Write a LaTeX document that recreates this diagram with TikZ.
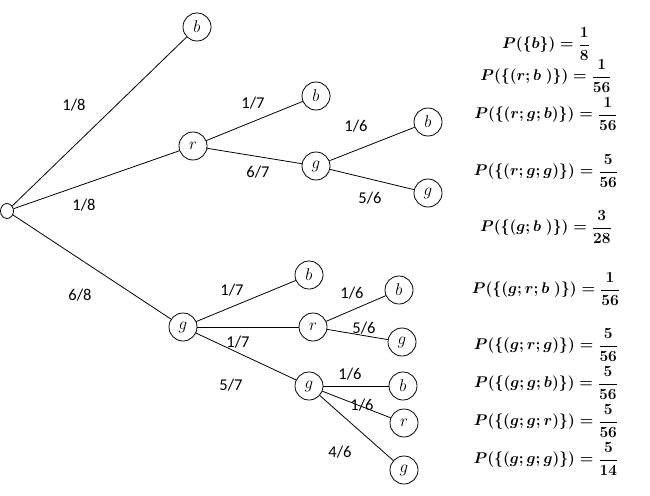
\documentclass[tikz,border=0pt]{standalone}
\usepackage{fix-cm}
\usepackage{amsmath}
\usepackage{fontspec}
\usetikzlibrary{shapes.geometric}
\newfontfamily\labfont{Carlito}
\begin{document}
\begin{tikzpicture}[x=1pt,y=-1pt,
  st/.style={circle,draw,line width=0.8pt,minimum size=28pt,inner sep=0pt,font=\fontsize{17}{19}\selectfont},
  rootst/.style={ellipse,draw,line width=0.8pt,minimum width=13pt,minimum height=15pt,inner sep=0pt},
  edge/.style={line width=0.8pt},
  lab/.style={font=\labfont\fontsize{16.5}{19}\selectfont,inner sep=0pt},
  prob/.style={font=\fontsize{15.5}{18}\selectfont\boldmath,inner sep=0pt}]
\useasboundingbox (0,0) rectangle (650,495);
\node[rootst] (root) at (7,211) {};
\node[st] (b1) at (197,27) {$b$};
\node[st] (r) at (193,146) {$r$};
\node[st] (rb) at (316,96) {$b$};
\node[st] (rg) at (316,166) {$g$};
\node[st] (rgb) at (428,122) {$b$};
\node[st] (rgg) at (428,193) {$g$};
\node[st] (g) at (183,327) {$g$};
\node[st] (gb) at (309,275) {$b$};
\node[st] (gr) at (313,327) {$r$};
\node[st] (grb) at (399,290) {$b$};
\node[st] (grg) at (402,342) {$g$};
\node[st] (gg) at (309,386) {$g$};
\node[st] (ggb) at (403,386) {$b$};
\node[st] (ggr) at (404,423) {$r$};
\node[st] (ggg) at (404,470) {$g$};
\foreach \a/\b in {root/b1,root/r,root/g,r/rb,r/rg,rg/rgb,rg/rgg,g/gb,g/gr,g/gg,gr/grb,gr/grg,gg/ggb,gg/ggr,gg/ggg}
  \draw[edge] (\a) -- (\b);
\node[lab] (l1) at (74,105) {1/8};
\node[lab] (l2) at (84,205) {1/8};
\node[lab] (l3) at (80,295) {6/8};
\node[lab] (l4) at (253,103) {1/7};
\node[lab] (l5) at (258,172) {6/7};
\node[lab] (l6) at (356,126) {1/6};
\node[lab] (l7) at (370,198) {5/6};
\node[lab] (l8) at (232,290) {1/7};
\node[lab] (l9) at (238,342) {1/7};
\node[lab] (l10) at (231,385) {5/7};
\node[lab] (l11) at (352,293) {1/6};
\node[lab] (l12) at (364,328) {5/6};
\node[lab] (l13) at (350,374) {1/6};
\node[lab] (l14) at (362,405) {1/6};
\node[lab] (l15) at (340,452) {4/6};
\node[prob] (p1) at (546,44) {$P(\{b\})=\dfrac{1}{8}$};
\node[prob] (p2) at (546,76) {$P(\{(r;b\ )\})=\dfrac{1}{56}$};
\node[prob] (p3) at (546,114) {$P(\{(r;g;b)\})=\dfrac{1}{56}$};
\node[prob] (p4) at (546,171) {$P(\{(r;g;g)\})=\dfrac{5}{56}$};
\node[prob] (p5) at (546,227) {$P(\{(g;b\ )\})=\dfrac{3}{28}$};
\node[prob] (p6) at (546,289) {$P(\{(g;r;b\ )\})=\dfrac{1}{56}$};
\node[prob] (p7) at (546,345) {$P(\{(g;r;g)\})=\dfrac{5}{56}$};
\node[prob] (p8) at (546,383) {$P(\{(g;g;b)\})=\dfrac{5}{56}$};
\node[prob] (p9) at (546,421) {$P(\{(g;g;r)\})=\dfrac{5}{56}$};
\node[prob] (p10) at (546,459) {$P(\{(g;g;g)\})=\dfrac{5}{14}$};
\end{tikzpicture}
\end{document}
